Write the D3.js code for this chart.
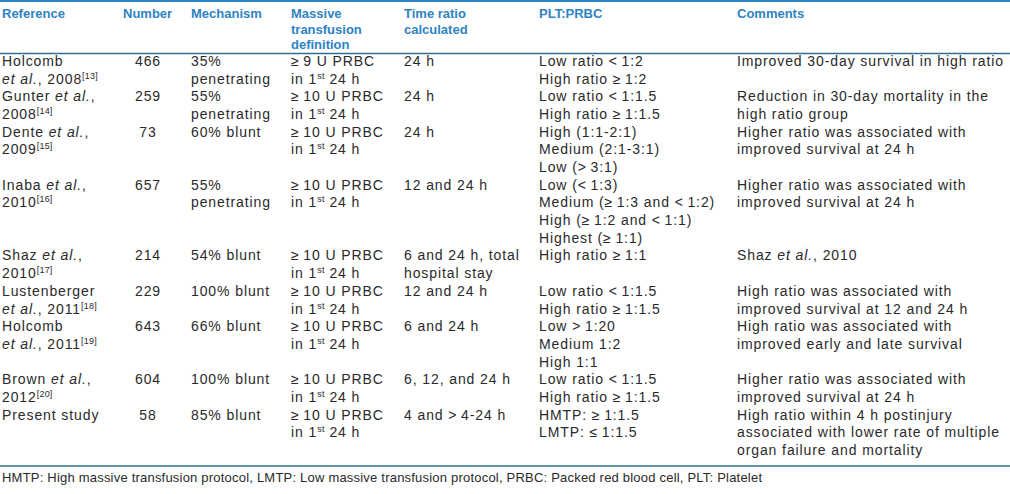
<!DOCTYPE html>
<html><head><meta charset="utf-8">
<script src="https://cdn.jsdelivr.net/npm/d3@7"></script>
<style>
html,body{margin:0;padding:0;background:#fff;}
svg{display:block;}
</style></head>
<body>
<svg id="chart" width="1010" height="494"></svg>
<script>
// ---- data ----
const columns = ["ref","num","mech","def","time","ratio","comm"];
const headers = [["Reference"],["Number"],["Mechanism"],["Massive","transfusion","definition"],["Time ratio","calculated"],["PLT:PRBC"],["Comments"]];
const references = [
  ["Holcomb","_et al._, 2008^[13]^"],
  ["Gunter _et al._,","2008^[14]^"],
  ["Dente _et al._,","2009^[15]^"],
  ["Inaba _et al._,","2010^[16]^"],
  ["Shaz _et al._,","2010^[17]^"],
  ["Lustenberger","_et al._, 2011^[18]^"],
  ["Holcomb","_et al._, 2011^[19]^"],
  ["Brown _et al._,","2012^[20]^"],
  ["Present study"]
];
const numbers = [466,259,73,657,214,229,643,604,58];
const mechanisms = [
  ["35%","penetrating"],["55%","penetrating"],["60% blunt"],["55%","penetrating"],
  ["54% blunt"],["100% blunt"],["66% blunt"],["100% blunt"],["85% blunt"]
];
const definitions = [
  ["≥\u20099 U PRBC","in 1^st^ 24 h"],["≥\u200910 U PRBC","in 1^st^ 24 h"],["≥\u200910 U PRBC","in 1^st^ 24 h"],
  ["≥\u200910 U PRBC","in 1^st^ 24 h"],["≥\u200910 U PRBC","in 1^st^ 24 h"],["≥\u200910 U PRBC","in 1^st^ 24 h"],
  ["≥\u200910 U PRBC","in 1^st^ 24 h"],["≥\u200910 U PRBC","in 1^st^ 24 h"],["≥\u200910 U PRBC","in 1^st^ 24 h"]
];
const timeRatios = [
  ["24 h"],["24 h"],["24 h"],["12 and 24 h"],["6 and 24 h, total","hospital stay"],
  ["12 and 24 h"],["6 and 24 h"],["6, 12, and 24 h"],["4 and >\u20094-24 h"]
];
const pltPrbc = [
  ["Low ratio <\u20091:2","High ratio ≥\u20091:2"],
  ["Low ratio <\u20091:1.5","High ratio ≥\u20091:1.5"],
  ["High (1:1-2:1)","Medium (2:1-3:1)","Low (>\u20093:1)"],
  ["Low (<\u20091:3)","Medium (≥\u20091:3 and <\u20091:2)","High (≥\u20091:2 and <\u20091:1)","Highest (≥\u20091:1)"],
  ["High ratio ≥\u20091:1"],
  ["Low ratio <\u20091:1.5","High ratio ≥\u20091:1.5"],
  ["Low >\u20091:20","Medium 1:2","High 1:1"],
  ["Low ratio <\u20091:1.5","High ratio ≥\u20091:1.5"],
  ["HMTP: ≥\u20091:1.5","LMTP: ≤\u20091:1.5"]
];
const comments = [
  ["Improved 30-day survival in high ratio"],
  ["Reduction in 30-day mortality in the","high ratio group"],
  ["Higher ratio was associated with","improved survival at 24 h"],
  ["Higher ratio was associated with","improved survival at 24 h"],
  ["Shaz _et al._, 2010"],
  ["High ratio was associated with","improved survival at 12 and 24 h"],
  ["High ratio was associated with","improved early and late survival"],
  ["Higher ratio was associated with","improved survival at 24 h"],
  ["High ratio within 4 h postinjury","associated with lower rate of multiple","organ failure and mortality"]
];
const footnote = "HMTP: High massive transfusion protocol, LMTP: Low massive transfusion protocol, PRBC: Packed red blood cell, PLT: Platelet";

// ---- layout ----
const svg = d3.select("#chart");
const colX = d3.scaleOrdinal().domain(columns).range([2,148,191,291,404,539,737]);
const anchor = c => c === "num" ? "middle" : "start";
const FONT = "'Liberation Sans', Arial, Helvetica, sans-serif";
const textColor = "#2a2a2a";
const blue = "#2e83c3";
const rule = "#2f6f8f";

const cells = references.map((r,i)=>({
  ref:r, num:[String(numbers[i])], mech:mechanisms[i], def:definitions[i],
  time:timeRatios[i], ratio:pltPrbc[i], comm:comments[i]
}));
const rowLines = cells.map(c => d3.max(columns, k => c[k].length));
const rowStart = rowLines.map((n,i)=> d3.sum(rowLines.slice(0,i)));
const totalLines = d3.sum(rowLines);
const lineY = d3.scaleLinear().domain([0,totalLines-1]).range([66,66+17.68*(totalLines-1)]);
const headY = d3.scaleLinear().domain([0,2]).range([18,49]);

function rich(sel, s){
  const parts = s.split(/(_[^_]+_|\^[^^]+\^)/).filter(p=>p.length);
  let shifted = false;
  parts.forEach(p=>{
    if(p[0]==="_"){
      const t = sel.append("tspan").attr("font-style","italic").text(p.slice(1,-1));
      if(shifted){ t.attr("dy",5); shifted=false; }
    } else if(p[0]==="^"){
      sel.append("tspan").attr("font-size",9).attr("dy",-5).attr("letter-spacing",0.2).text(p.slice(1,-1));
      shifted = true;
    } else {
      const t = sel.append("tspan").text(p);
      if(shifted){ t.attr("dy",5); shifted=false; }
    }
  });
}

// rules
svg.append("line").attr("x1",0).attr("x2",1010).attr("y1",1).attr("y2",1)
  .attr("stroke",blue).attr("stroke-width",2);
svg.append("line").attr("x1",0).attr("x2",1010).attr("y1",53.5).attr("y2",53.5)
  .attr("stroke",rule).attr("stroke-width",1.3);
svg.append("line").attr("x1",0).attr("x2",1010).attr("y1",466).attr("y2",466)
  .attr("stroke",rule).attr("stroke-width",1.3);

// header
const hg = svg.append("g").attr("font-family",FONT).attr("font-weight","bold")
  .attr("font-size",13).attr("fill",blue);
columns.forEach((c,ci)=>{
  const hx = c==="num" ? 123 : colX(c);
  headers[ci].forEach((h,j)=>{
    hg.append("text").attr("x",hx).attr("y",headY(j)).text(h);
  });
});

// body
const bg = svg.append("g").attr("font-family",FONT).attr("font-size",14)
  .attr("fill",textColor).attr("letter-spacing",0.9);
cells.forEach((row,i)=>{
  columns.forEach(c=>{
    row[c].forEach((line,j)=>{
      const t = bg.append("text").attr("x",colX(c)).attr("y",lineY(rowStart[i]+j))
        .attr("text-anchor",anchor(c));
      rich(t,line);
    });
  });
});

// footnote
svg.append("text").attr("x",2).attr("y",482).attr("font-family",FONT).attr("font-size",13)
  .attr("fill",textColor).attr("textLength",760).attr("lengthAdjust","spacing").text(footnote);
</script>
</body></html>
